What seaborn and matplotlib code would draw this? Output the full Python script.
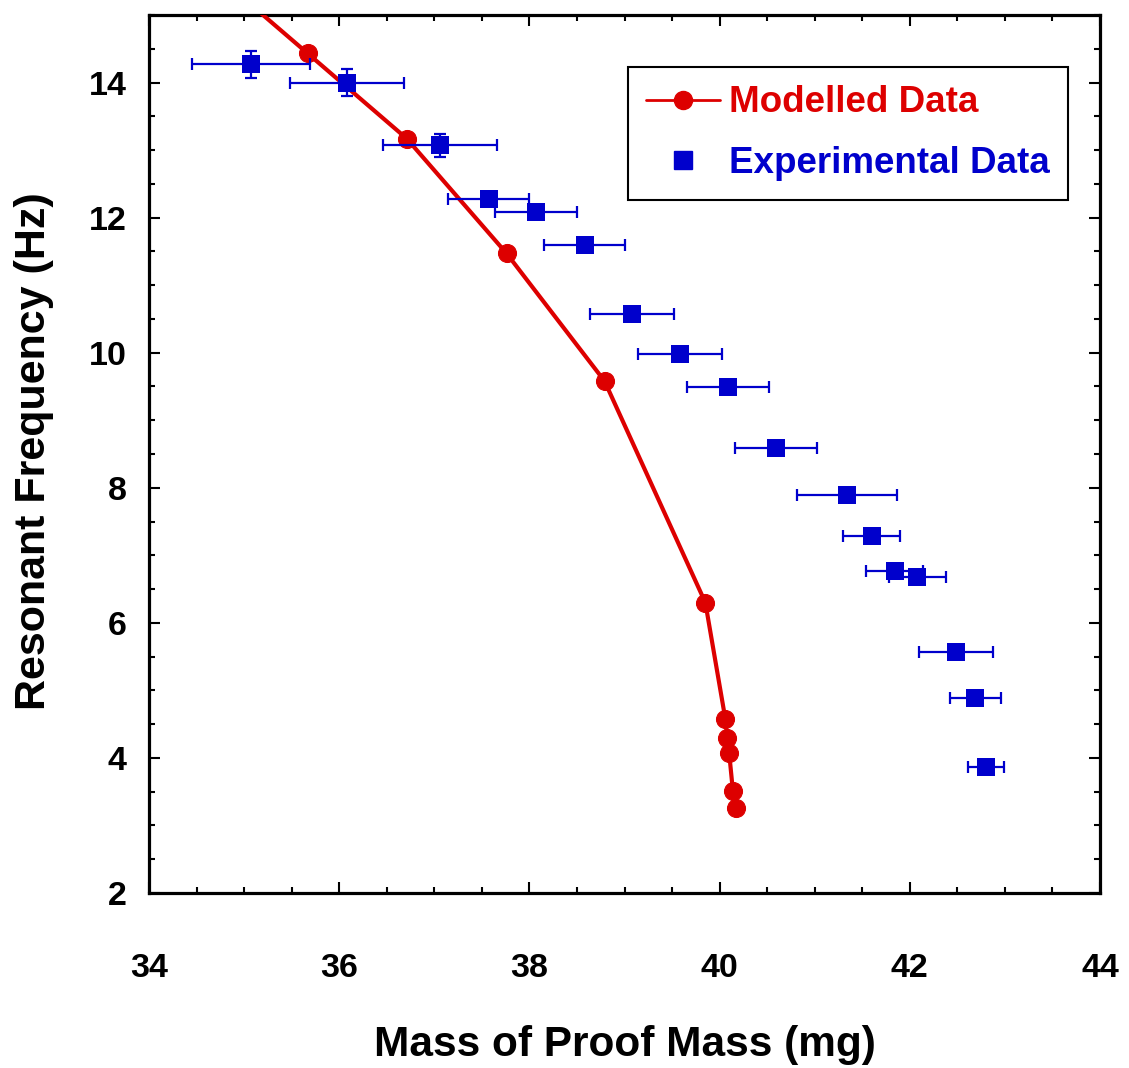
import numpy as np
import pandas as pd
import seaborn as sns
import matplotlib.pyplot as plt
from matplotlib.ticker import MultipleLocator
from matplotlib.lines import Line2D

sns.set_theme(style="ticks")
plt.rcParams['font.family'] = ['Liberation Sans', 'DejaVu Sans']
plt.rcParams['font.weight'] = 'bold'

# Modelled resonant frequency vs proof mass
model_mass = [34.62, 35.67, 36.71, 37.76, 38.79, 39.85, 40.06, 40.08, 40.10, 40.14, 40.17]
model_freq = [15.70, 14.43, 13.17, 11.47, 9.58, 6.30, 4.58, 4.30, 4.08, 3.51, 3.26]

# Measured resonant frequency with uncertainties
exp_mass = [35.07, 36.08, 37.06, 37.57, 38.07, 38.58, 39.08, 39.58, 40.09,
            40.59, 41.34, 41.60, 41.84, 42.08, 42.49, 42.69, 42.80]
exp_freq = [14.27, 14.00, 13.07, 12.27, 12.08, 11.59, 10.57, 9.98, 9.49,
            8.59, 7.89, 7.29, 6.77, 6.68, 5.57, 4.88, 3.87]
mass_err = [0.62, 0.60, 0.60, 0.43, 0.43, 0.43, 0.44, 0.44, 0.43,
            0.43, 0.53, 0.30, 0.30, 0.30, 0.39, 0.27, 0.19]
freq_err = [0.20, 0.20, 0.17, 0.0, 0.0, 0.0, 0.0, 0.0, 0.0,
            0.0, 0.0, 0.0, 0.0, 0.0, 0.0, 0.0, 0.0]

RED = '#DD0000'
BLUE = '#0000CC'

model_df = pd.DataFrame({'mass': model_mass, 'freq': model_freq})
exp_df = pd.DataFrame({'mass': exp_mass, 'freq': exp_freq,
                       'xerr': mass_err, 'yerr': freq_err})

fig = plt.figure(figsize=(11.29, 10.68), dpi=100)
ax = fig.add_axes([149 / 1129, 1 - 893 / 1068, 951 / 1129, 878 / 1068])

sns.lineplot(data=model_df, x='mass', y='freq', ax=ax, sort=False,
             color=RED, linewidth=3, marker='o', markersize=13,
             markeredgecolor=RED, zorder=3)

ax.errorbar(exp_df['mass'], exp_df['freq'], xerr=exp_df['xerr'],
            yerr=exp_df['yerr'], fmt='none', ecolor=BLUE, elinewidth=1.6,
            capsize=4, capthick=1.6, zorder=4)
sns.scatterplot(data=exp_df, x='mass', y='freq', ax=ax, marker='s', s=180,
                color=BLUE, edgecolor=BLUE, linewidth=0, zorder=5)

ax.set_xlim(34, 44)
ax.set_ylim(2, 15)
ax.xaxis.set_major_locator(MultipleLocator(2))
ax.xaxis.set_minor_locator(MultipleLocator(0.5))
ax.yaxis.set_major_locator(MultipleLocator(2))
ax.yaxis.set_minor_locator(MultipleLocator(0.5))

for side in ['left', 'right', 'top', 'bottom']:
    ax.spines[side].set_visible(True)
    ax.spines[side].set_linewidth(2.3)
    ax.spines[side].set_color('black')

ax.tick_params(which='both', direction='in', top=True, right=True,
               color='black', width=1.5)
ax.tick_params(which='major', length=8)
ax.tick_params(which='minor', length=4.5)
ax.tick_params(axis='x', which='major', pad=43, labelsize=24.5)
ax.tick_params(axis='y', which='major', pad=16, labelsize=24.5)
for lbl in ax.get_xticklabels() + ax.get_yticklabels():
    lbl.set_fontweight('bold')
    lbl.set_color('black')

ax.set_xlabel('Mass of Proof Mass (mg)', fontsize=30.5, fontweight='bold', color='black')
ax.set_ylabel('Resonant Frequency (Hz)', fontsize=31, fontweight='bold', color='black')
ax.xaxis.set_label_coords(0.5, -0.150)
ax.yaxis.set_label_coords(-0.100, 0.503)

handles = [
    Line2D([], [], color=RED, linewidth=2, marker='o', markersize=13,
           markeredgecolor=RED),
    Line2D([], [], color=BLUE, linestyle='none', marker='s', markersize=13,
           markeredgecolor=BLUE),
]
leg = ax.legend(handles, ['Modelled Data', 'Experimental Data'],
                loc='upper left', bbox_to_anchor=(628 / 1129, 1 - 67 / 1068),
                bbox_transform=fig.transFigure, prop={'weight': 'bold', 'size': 26.5},
                handlelength=2.0, handletextpad=0.25, labelspacing=0.7,
                borderpad=0.5, borderaxespad=0, frameon=True, fancybox=False,
                framealpha=1, edgecolor='black')
leg.get_frame().set_linewidth(1.5)
for txt, col in zip(leg.get_texts(), [RED, BLUE]):
    txt.set_color(col)

fig.savefig('out.png', dpi=100)
